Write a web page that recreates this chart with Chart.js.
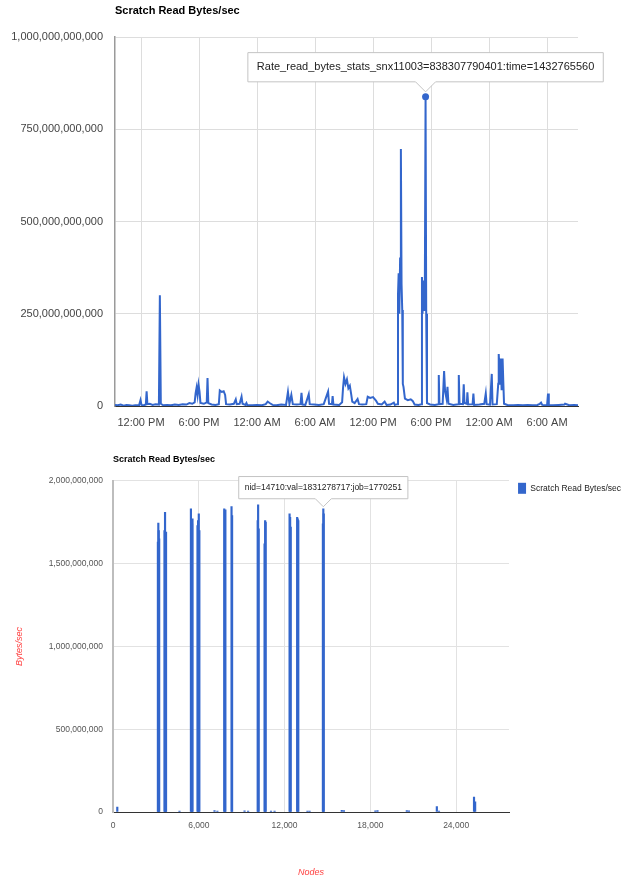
<!DOCTYPE html>
<html>
<head>
<meta charset="utf-8">
<title>Scratch Read Bytes/sec</title>
<script src="https://cdn.jsdelivr.net/npm/chart.js@4.4.1/dist/chart.umd.min.js"></script>
<style>
  html, body { margin: 0; padding: 0; background: #fff; }
  #wrap { position: relative; width: 628px; height: 878px; }
  #rateChart { position: absolute; left: 0; top: 0; }
  #nodeChart { position: absolute; left: 0; top: 440px; }
</style>
</head>
<body>
<div id="wrap">
  <canvas id="rateChart" width="628" height="440"></canvas>
  <canvas id="nodeChart" width="628" height="438"></canvas>
</div>
<script>
// ---- Read rate over time (hours since 26 May 2015 00:00 CDT) ----
const epochOrigin = 1432616400;
const sampleHours = [
  9.31, 9.6, 9.9, 10.2, 10.5, 10.8, 11.1, 11.4, 11.8, 11.95,
  12.05, 12.3, 12.5, 12.58, 12.66, 12.9, 13.2, 13.5, 13.85, 13.95,
  14.05, 14.3, 14.7, 15.1, 15.5, 15.9, 16.3, 16.7, 17.0, 17.3,
  17.55, 17.65, 17.75, 17.85, 17.95, 18.05, 18.15, 18.5, 18.8, 18.88,
  18.96, 19.3, 19.7, 20.05, 20.15, 20.35, 20.55, 20.7, 20.8, 21.2,
  21.6, 21.8, 21.9, 22.2, 22.4, 22.5, 22.8, 22.9, 23.0, 23.5,
  24.0, 24.5, 24.9, 25.1, 25.3, 25.6, 26.0, 26.5, 27.0, 27.2,
  27.35, 27.55, 27.7, 28.1, 28.5, 28.6, 28.7, 29.0, 29.35, 29.45,
  29.9, 30.4, 30.9, 31.35, 31.45, 31.75, 31.82, 31.9, 32.5, 32.8,
  32.9, 33.0, 33.15, 33.3, 33.45, 33.6, 33.75, 33.85, 34.1, 34.4,
  34.55, 34.9, 35.3, 35.45, 35.7, 36.0, 36.3, 36.5, 36.9, 37.2,
  37.4, 37.8, 38.15, 38.25, 38.5, 38.58, 38.65, 38.72, 38.8, 38.88,
  38.95, 39.02, 39.08, 39.15, 39.3, 39.6, 39.9, 40.1, 40.3, 40.7,
  41.0, 41.06, 41.12, 41.2, 41.28, 41.36, 41.4333, 41.5, 41.58, 41.9,
  42.4, 42.75, 42.8, 42.87, 43.2, 43.35, 43.45, 43.6, 43.7, 43.8,
  44.3, 44.8, 44.87, 44.95, 45.3, 45.38, 45.46, 45.7, 45.76, 45.84,
  46.3, 46.38, 46.46, 47.0, 47.5, 47.66, 47.75, 48.1, 48.28, 48.36,
  48.8, 48.95, 49.0, 49.1, 49.15, 49.2, 49.3, 49.4, 49.48, 49.55,
  49.9, 50.5, 51.0, 51.5, 52.0, 52.5, 53.0, 53.25, 53.38, 53.5,
  54.0, 54.1, 54.18, 54.6, 55.2, 55.8, 55.86, 56.3, 56.8, 57.2
];
// Bytes/sec in units of 1e9
const readRateGB = [
  3, 2, 4, 1, 3, 2, 1, 2, 2, 16,
  3, 2, 4, 40, 5, 6, 3, 5, 4, 300,
  6, 2, 3, 2, 4, 3, 5, 4, 8, 6,
  10, 35, 50, 30, 58, 40, 8, 6, 10, 76,
  8, 4, 3, 5, 42, 38, 40, 30, 5, 4,
  6, 18, 5, 6, 25, 6, 3, 8, 2, 2,
  3, 2, 5, 12, 8, 3, 2, 4, 3, 38,
  6, 30, 5, 4, 5, 36, 4, 3, 32, 5,
  4, 3, 5, 39, 6, 5, 27, 4, 3, 10,
  50, 78, 60, 72, 48, 55, 30, 12, 8, 19,
  5, 4, 5, 25, 22, 24, 15, 6, 4, 12,
  3, 4, 9, 3, 5, 300, 360, 250, 400, 697,
  330, 260, 60, 52, 20, 16, 18, 14, 4, 3,
  5, 350, 250, 340, 260, 330, 838.307790401, 250, 8, 4,
  3, 5, 84, 5, 6, 95, 40, 20, 52, 6,
  3, 5, 84, 6, 5, 59, 8, 6, 37, 4,
  5, 34, 3, 4, 6, 34, 5, 4, 87, 4,
  5, 60, 141, 90, 60, 129, 43, 129, 60, 6,
  3, 2, 3, 2, 3, 2, 3, 6, 9, 3,
  2, 34, 3, 2, 3, 4, 6, 2, 3, 2
];
const timeTickHours = [12, 18, 24, 30, 36, 42, 48, 54];
const timeTickLabels = ['12:00 PM', '6:00 PM', '12:00 AM', '6:00 AM', '12:00 PM', '6:00 PM', '12:00 AM', '6:00 AM'];

// ---- Read rate per node ----
const jobId = 1770251;
const nodeIds = [
  300, 3140, 3170, 3200, 3230, 3600, 3640, 3680, 3710, 4650,
  5450, 5490, 5530, 5560, 5910, 5950, 6000, 6040, 7100, 7300,
  7780, 7820, 7860, 8290, 8330, 9200, 9450, 10120, 10150, 10190,
  10600, 10640, 10680, 11050, 11300, 12350, 12390, 12430, 12880, 12920,
  12960, 13600, 13750, 14680, 14710, 14740, 16000, 16150, 18350, 18500,
  20550, 20700, 22650, 22800, 25250, 25330
];
const nodeReadRate = [
  30e6, 1.63e9, 1.745e9, 1.70e9, 1.65e9, 1.70e9, 1.81e9, 1.67e9, 1.69e9, 5e6,
  1.83e9, 1.76e9, 1.74e9, 1.77e9, 1.73e9, 1.76e9, 1.80e9, 1.70e9, 8e6, 6e6,
  1.83e9, 1.82e9, 1.825e9, 1.845e9, 1.79e9, 7e6, 6e6, 1.76e9, 1.855e9, 1.71e9,
  1.62e9, 1.76e9, 1.75e9, 6e6, 5e6, 1.80e9, 1.78e9, 1.72e9, 1.78e9, 1.77e9,
  1.76e9, 6e6, 5e6, 1.74e9, 1831278717, 1.80e9, 10e6, 8e6, 7e6, 9e6,
  8e6, 7e6, 32e6, 6e6, 90e6, 62e6
];
const nodeTicks = [0, 6000, 12000, 18000, 24000];

const fontFamily = '"Liberation Sans", Arial, sans-serif';
const blue = '#3366cc';
const fmt = v => Number(v).toLocaleString('en-US');

const rateData = sampleHours.map((h, i) => ({ x: h, y: Math.round(readRateGB[i] * 1e9) }));
const peakIndex = rateData.reduce((best, p, i, arr) => (p.y > arr[best].y ? i : best), 0);

const rateChart = new Chart(document.getElementById('rateChart'), {
  type: 'line',
  data: {
    datasets: [{
      label: 'Rate_read_bytes_stats_snx11003',
      data: rateData,
      borderColor: blue,
      backgroundColor: blue,
      borderWidth: 2,
      tension: 0,
      pointRadius: ctx => (ctx.dataIndex === peakIndex ? 3.5 : 0),
      pointHoverRadius: ctx => (ctx.dataIndex === peakIndex ? 3.5 : 0),
      pointBorderWidth: 0
    }]
  },
  options: {
    responsive: false,
    animation: false,
    events: [],
    layout: { padding: { left: 0, right: 50, top: 0, bottom: 0 } },
    scales: {
      x: {
        type: 'linear',
        min: 9.31,
        max: 57.2,
        afterBuildTicks: s => { s.ticks = timeTickHours.map(v => ({ value: v })); },
        afterFit: s => { s.height = 34; },
        ticks: {
          autoSkip: false, maxRotation: 0, padding: 10, color: '#444',
          font: { family: fontFamily, size: 11 },
          callback: v => timeTickLabels[timeTickHours.indexOf(v)]
        },
        grid: { color: '#dddddd', drawTicks: false },
        border: { color: '#333', width: 1 }
      },
      y: {
        min: 0,
        max: 1e12,
        afterFit: s => { s.width = 115; },
        ticks: {
          stepSize: 250e9, padding: 12, color: '#444',
          font: { family: fontFamily, size: 11 },
          callback: v => fmt(v)
        },
        grid: { color: '#dddddd', drawTicks: false },
        border: { color: '#9a9a9a', width: 1.5 }
      }
    },
    plugins: {
      legend: { display: false },
      title: {
        display: true,
        text: 'Scratch Read Bytes/sec',
        align: 'start',
        fullSize: false,
        color: '#000',
        font: { family: fontFamily, size: 11, weight: 'bold' },
        padding: { top: 4, bottom: 20 }
      },
      tooltip: {
        enabled: true,
        backgroundColor: '#fff',
        borderColor: '#c4c4c4',
        borderWidth: 1,
        bodyColor: '#222',
        bodyFont: { family: fontFamily, size: 11 },
        padding: { x: 9, y: 8 },
        caretSize: 10,
        caretPadding: 5,
        cornerRadius: 0,
        displayColors: false,
        yAlign: 'bottom',
        callbacks: {
          title: () => [],
          label: ctx => 'Rate_read_bytes_stats_snx11003=' + ctx.raw.y +
            ':time=' + Math.round(epochOrigin + ctx.raw.x * 3600)
        }
      }
    }
  }
});

const nodeData = nodeIds.map((n, i) => ({ x: n, y: nodeReadRate[i] }));
const nodeTipIndex = nodeIds.indexOf(14710);

const nodeChart = new Chart(document.getElementById('nodeChart'), {
  type: 'bar',
  data: {
    datasets: [{
      label: 'Scratch Read Bytes/sec',
      data: nodeData,
      backgroundColor: blue,
      borderWidth: 0,
      barThickness: 1.5
    }]
  },
  options: {
    responsive: false,
    animation: false,
    events: [],
    layout: { padding: { left: 0, right: -3, top: 0, bottom: 0 } },
    scales: {
      x: {
        type: 'linear',
        min: 0,
        max: 27700,
        offset: false,
        afterBuildTicks: s => { s.ticks = nodeTicks.map(v => ({ value: v })); },
        afterFit: s => { s.height = 66; },
        ticks: {
          autoSkip: false, maxRotation: 0, padding: 9, color: '#555',
          font: { family: fontFamily, size: 8.5 },
          callback: v => fmt(v)
        },
        grid: { color: '#e2e2e2', drawTicks: false, offset: false },
        border: { color: '#333', width: 1 },
        title: {
          display: true, text: 'Nodes', color: '#ff4040',
          font: { family: fontFamily, size: 9, style: 'italic' },
          padding: { top: 0, bottom: 0 }
        }
      },
      y: {
        min: 0,
        max: 2e9,
        afterFit: s => { s.width = 113; },
        ticks: {
          stepSize: 500e6, padding: 10, color: '#555',
          font: { family: fontFamily, size: 8.5 },
          callback: v => fmt(v)
        },
        grid: { color: '#e2e2e2', drawTicks: false },
        border: { color: '#bdbdbd', width: 2 },
        title: {
          display: true, text: 'Bytes/sec', color: '#ff4040',
          font: { family: fontFamily, size: 9, style: 'italic' },
          padding: { top: 14, bottom: 0 }
        }
      }
    },
    plugins: {
      legend: {
        position: 'right',
        align: 'start',
        fullSize: true,
        title: { display: true, text: '', padding: { top: 23, bottom: 0 }, font: { family: fontFamily, size: 9 } },
        labels: {
          boxWidth: 8, boxHeight: 11, padding: 9, color: '#222',
          font: { family: fontFamily, size: 8.5 }
        }
      },
      title: {
        display: true,
        text: 'Scratch Read Bytes/sec',
        align: 'start',
        fullSize: false,
        color: '#000',
        font: { family: fontFamily, size: 9, weight: 'bold' },
        padding: { top: 14, bottom: 16 }
      },
      tooltip: {
        enabled: true,
        backgroundColor: '#fff',
        borderColor: '#c4c4c4',
        borderWidth: 1,
        bodyColor: '#222',
        bodyFont: { family: fontFamily, size: 8.5 },
        padding: { x: 6, y: 6 },
        caretSize: 8,
        caretPadding: 2,
        cornerRadius: 0,
        displayColors: false,
        yAlign: 'bottom',
        callbacks: {
          title: () => [],
          label: ctx => 'nid=' + ctx.raw.x + ':val=' + ctx.raw.y + ':job=' + jobId
        }
      }
    }
  }
});

// Show the callouts on the peak sample and on node 14710
function showTip(chart, index) {
  const el = chart.getDatasetMeta(0).data[index];
  chart.tooltip.setActiveElements([{ datasetIndex: 0, index }], { x: el.x, y: el.y });
  chart.update();
}
showTip(rateChart, peakIndex);
showTip(nodeChart, nodeTipIndex);
</script>
</body>
</html>
